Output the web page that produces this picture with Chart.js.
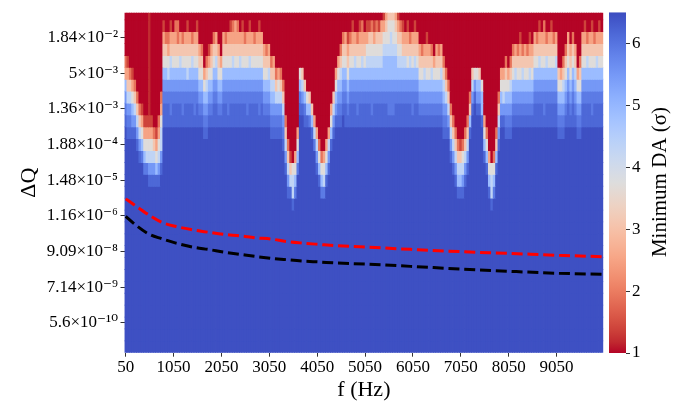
<!DOCTYPE html>
<html><head><meta charset="utf-8">
<script src="https://cdn.jsdelivr.net/npm/chart.js@4.4.1/dist/chart.umd.min.js"></script>
<style>
html,body{margin:0;padding:0;background:#fff;}
#wrap{position:relative;width:675px;height:403px;overflow:hidden;background:#fff;}
#main{position:absolute;left:0;top:0;}
#cbar{position:absolute;left:606px;top:0;}
</style></head><body>
<div id="wrap"><canvas id="main" width="606" height="403"></canvas><canvas id="cbar" width="69" height="403"></canvas></div>
<script>
// ---------------- data ----------------
const N_COLS = 200;                       // frequency columns, 50 Hz apart
const FREQ = Array.from({length: N_COLS}, (_, i) => 50 + 50 * i);
const N_ROWS = 29;                        // ΔQ rows (top row only partly visible)
const X_TICKS = [50, 1050, 2050, 3050, 4050, 5050, 6050, 7050, 8050, 9050];
const Y_TICK_LABELS = ['1.84×10⁻²','5×10⁻³','1.36×10⁻³','1.88×10⁻⁴','1.48×10⁻⁵','1.16×10⁻⁶','9.09×10⁻⁸','7.14×10⁻⁹','5.6×10⁻¹⁰'];
const Y_TICK_Q = [1.84e-2, 5e-3, 1.36e-3, 1.88e-4, 1.48e-5, 1.16e-6, 9.09e-8, 7.14e-9, 5.6e-10];
const Y_TICK_ROW = [2, 5, 8, 11, 14, 17, 20, 23, 26];   // row index from top
const CB_TICKS = [1, 2, 3, 4, 5, 6];
const CB_MIN = 1, CB_MAX = 6.5;

// Minimum DA level per cell code
const LEVELS = {'0':1.0,'r':1.2,'1':1.4,'2':1.9,'3':2.5,'4':3.1,'5':3.7,'6':4.3,'7':4.9,'8':5.5,'b':5.9,'a':6.15,'9':6.45};

// one string per frequency column, rows from top; missing rows are deep blue ('9')
const COLS = [
"00002378ba","000013468ba","000002468ba","0000013578a","0000002468a","00000002468a","000000002468a","000000001357b",
"0000000001357b","0000000001356b","rrrrrrrrr13568a","00000000013568a","00000000002468a","00000000001357a","00000000023568a","0000000235668a",
"0134578baa","0024578baa","0023568baa","0134678bba","0034578baa","0234578baa","0224578baa","0034678baa",
"0024578bba","0034578baa","0134568baa","0034578baa","0024678baa","0034578bba","0134578baa","00034578ba",
"00024578ba","000003578ba","000024678ba","00013578ba","00034578ba","0024578baa","0034678baa","00034578ba",
"00003578ba","0034578baa","0024578baa","0034578bba","0134578baa","0234678baa","0334578baa","0234578baa",
"0034678baa","0134578baa","0024578baa","0034578bba","0134678baa","0034578baa","0024578baa","0034578baa",
"0134578bba","0034578baa","00034578ba","00024578ba","00034678ba","000024678ba","000034678ba","000002468ba",
"000003568ba","000002468ba","0000002468ba","0000000002468a","000000000002468a","000000000000146a","0000000000000566a","000000000000357b",
"0000000000357b","0000057ba","00000468a","00000047ba","000000057a","000000047b","0000000047a","00000000036b",
"0000000000368a","00000000000257a","000000000000257b","000000000000356b","00000000000357a","0000000000368a","00000000357a","0000000468a",
"000003578a","00003578ba","00024678ba","0024578ba","0034578baa","00134578ba","0024578baa","0134578baa",
"0034678baa","0024578bba","0134578baa","0234678baa","0034578baa","0135678baa","0145678baa","0245678bba",
"0135678baa","0245678baa","0145678baa","0345678baa","1356778baa","3456778baa","4556778bba","4566778bba",
"4556778bba","3456778baa","1345678baa","0245678baa","0134678baa","0034678baa","0134578baa","0024678baa",
"0034578bba","0134678baa","0034578baa","00034578ba","00024578ba","00034678ba","00134578ba","00034578ba",
"00024678ba","00003578ba","00034578ba","00024578ba","00034678ba","000024678ba","000002468ba","0000002468a",
"000000002468a","0000000002468a","00000000002468a","000000000002467a","000000000001467a","000000000002568a","00000000002468a","0000000002468a",
"0000000247a","00000468a","0000058a","00000578a","00000478a","000000577a","000000000357a","0000000000257a",
"000000000000357a","0000000000000566a","000000000000257b","0000000000247a","00000002468a","000003578a","000003568a","000024578ba",
"000003578ba","000024678ba","00024578ba","00034678ba","00024578ba","00134578ba","00024678ba","00034578ba",
"00024578ba","00134678ba","00034578ba","0034578baa","0024578baa","0134678baa","0034578baa","0234578bba",
"0024678baa","0034578baa","0134578baa","0024578baa","0034678baa","000004578ba","000003578ba","000024678ba",
"00024578ba","0034578baa","00034578ba","0024578baa","00034678ba","000003578ba","000024578ba","0034578baa",
"0134578baa","0024678baa","0034578baa","0134578bba","0024578baa","0034678baa","0134578baa","0034578baa"
];

// dashed curves (ΔQ vs f)
const RED_F = [50, 250, 500, 800, 1100, 1450, 1800, 2100, 2450, 2750, 3100, 3400, 3750, 4100, 4450, 5050, 6000, 7050, 8050, 9100, 10000];
const RED_Q = [3.94e-6, 2.44e-6, 1.35e-6, 7.45e-7, 5.49e-7, 4.33e-7, 3.59e-7, 3.11e-7, 2.79e-7, 2.45e-7, 2.22e-7, 1.88e-7, 1.67e-7, 1.52e-7, 1.39e-7, 1.26e-7, 1.07e-7, 9.08e-8, 8.04e-8, 6.98e-8, 6.35e-8];
const BLACK_F = [50, 210, 520, 800, 1100, 1450, 1800, 2100, 2450, 2750, 3100, 3400, 3750, 4100, 4450, 5050, 6000, 7050, 8050, 9100, 10000];
const BLACK_Q = [1.12e-6, 6.97e-7, 3.27e-7, 2.29e-7, 1.67e-7, 1.26e-7, 1.05e-7, 8.83e-8, 7.48e-8, 6.50e-8, 5.65e-8, 5.14e-8, 4.65e-8, 4.35e-8, 4.04e-8, 3.76e-8, 3.18e-8, 2.63e-8, 2.24e-8, 1.94e-8, 1.81e-8];

const X_TITLE = 'f (Hz)', Y_TITLE = 'ΔQ', CB_TITLE = 'Minimum DA (σ)';

// ---------------- helpers ----------------
const FONT = "'Liberation Serif', 'Times New Roman', 'DejaVu Serif', serif";
const CW = [[59,76,192],[68,90,204],[77,104,215],[87,117,225],[98,130,234],[108,142,241],[119,154,247],[130,165,251],[141,176,254],[152,185,255],[163,194,255],[174,201,253],[184,208,249],[194,213,244],[204,217,238],[213,219,230],[221,221,221],[229,216,209],[236,211,197],[241,204,185],[245,196,173],[247,187,160],[247,177,148],[247,166,135],[244,154,123],[241,141,111],[236,127,99],[229,112,88],[222,96,77],[213,80,66],[203,62,56],[192,40,47],[180,4,38]];
function coolwarm(s) {
  s = Math.max(0, Math.min(1, s));
  const p = s * 32, i = Math.min(31, Math.floor(p)), f = p - i;
  const a = CW[i], b = CW[i + 1];
  return 'rgb(' + [0,1,2].map(k => Math.round(a[k] + (b[k] - a[k]) * f)).join(',') + ')';
}
function valueColor(v) { return coolwarm((CB_MAX - v) / (CB_MAX - CB_MIN)); }   // reversed coolwarm
function rowCenter(t) { return N_ROWS - 0.5 - t; }
function qToY(q) {
  const lq = Math.log10(q);
  for (let i = 0; i < Y_TICK_Q.length - 1; i++) {
    const a = Math.log10(Y_TICK_Q[i]), b = Math.log10(Y_TICK_Q[i + 1]);
    if (lq <= a && lq >= b) {
      const ya = rowCenter(Y_TICK_ROW[i]), yb = rowCenter(Y_TICK_ROW[i + 1]);
      return ya + (lq - a) / (b - a) * (yb - ya);
    }
  }
  return null;
}

// ---------------- main heatmap chart ----------------
const datasets = [];
datasets.push({type: 'line', data: RED_F.map((f, i) => ({x: f, y: qToY(RED_Q[i])})),
  borderColor: '#ff0000', borderWidth: 3, borderDash: [11, 4.8], borderCapStyle: 'butt',
  pointRadius: 0, fill: false, cubicInterpolationMode: 'monotone', order: 0});
datasets.push({type: 'line', data: BLACK_F.map((f, i) => ({x: f, y: qToY(BLACK_Q[i])})),
  borderColor: '#000000', borderWidth: 3, borderDash: [11, 4.8], borderCapStyle: 'butt',
  pointRadius: 0, fill: false, cubicInterpolationMode: 'monotone', order: 0});
for (let t = 0; t < N_ROWS; t++) {
  datasets.push({
    type: 'bar',
    data: FREQ.map(f => ({x: f, y: [N_ROWS - 1 - t, N_ROWS - t]})),
    backgroundColor: COLS.map(s => valueColor(LEVELS[s[t] || '9'])),
    borderWidth: 0, grouped: false, barPercentage: 1, categoryPercentage: 1,
    inflateAmount: 0.4, order: 1, clip: 0
  });
}

new Chart(document.getElementById('main'), {
  type: 'bar',
  data: {datasets},
  options: {
    responsive: false, animation: false, events: [],
    layout: {padding: {left: 0, right: 2.7, top: 11.7, bottom: 0}},
    plugins: {legend: {display: false}, tooltip: {enabled: false}},
    scales: {
      x: {
        type: 'linear', min: 25, max: 10025, offset: false,
        afterBuildTicks: s => { s.ticks = X_TICKS.map(v => ({value: v})); },
        afterFit: s => { s.height = 50.3; },
        ticks: {callback: v => String(v), font: {family: FONT, size: 17}, color: '#000', padding: 1, autoSkip: false, maxRotation: 0},
        grid: {drawOnChartArea: false, drawTicks: true, tickLength: 4, color: '#333', offset: false},
        border: {display: false},
        title: {display: true, text: X_TITLE, font: {family: FONT, size: 22}, color: '#000', padding: {top: 0, bottom: 0}}
      },
      y: {
        type: 'linear', min: 0, max: 28.6,
        afterBuildTicks: s => { s.ticks = Y_TICK_ROW.map(t => ({value: rowCenter(t)})); },
        afterFit: s => { s.width = 124.5; },
        ticks: {callback: (v, i) => Y_TICK_LABELS[i], font: {family: FONT, size: 17}, color: '#000', padding: 2.5, autoSkip: false},
        grid: {drawOnChartArea: false, drawTicks: true, tickLength: 4, color: '#333'},
        border: {display: false},
        title: {display: true, text: Y_TITLE, font: {family: FONT, size: 22}, color: '#000', padding: {top: 16, bottom: 0}}
      }
    }
  }
});

// ---------------- colorbar ----------------
const cbTitle = {
  id: 'cbTitle',
  afterDraw(chart) {
    const c = chart.ctx;
    c.save();
    c.translate(54, 182);
    c.rotate(-Math.PI / 2);
    c.font = '21px ' + FONT;
    c.fillStyle = '#000';
    c.textAlign = 'center';
    c.textBaseline = 'middle';
    c.fillText(CB_TITLE, 0, 0);
    c.restore();
  }
};
new Chart(document.getElementById('cbar'), {
  type: 'bar',
  data: {labels: ['DA'], datasets: [{
    data: [[CB_MIN, CB_MAX]],
    backgroundColor: (ctx) => {
      const ch = ctx.chart;
      if (!ch.chartArea || !ch.scales.y) return valueColor(3.75);
      const ys = ch.scales.y;
      const g = ch.ctx.createLinearGradient(0, ys.getPixelForValue(CB_MIN), 0, ys.getPixelForValue(CB_MAX));
      for (let k = 0; k <= 32; k++) g.addColorStop(k / 32, 'rgb(' + CW[32 - k].join(',') + ')');
      return g;
    },
    borderWidth: 0, barPercentage: 1, categoryPercentage: 1, inflateAmount: 0
  }]},
  options: {
    responsive: false, animation: false, events: [],
    layout: {padding: {left: 3, right: 0, top: 12, bottom: 50}},
    plugins: {legend: {display: false}, tooltip: {enabled: false}},
    scales: {
      x: {display: false, offset: true},
      y: {
        position: 'right', min: CB_MIN, max: CB_MAX,
        afterBuildTicks: s => { s.ticks = CB_TICKS.map(v => ({value: v})); },
        afterFit: s => { s.width = 49; },
        ticks: {callback: v => String(v), font: {family: FONT, size: 17}, color: '#000', padding: 2},
        grid: {drawOnChartArea: false, drawTicks: true, tickLength: 4, color: '#333'},
        border: {display: false}
      }
    }
  },
  plugins: [cbTitle]
});
</script>
</body></html>
